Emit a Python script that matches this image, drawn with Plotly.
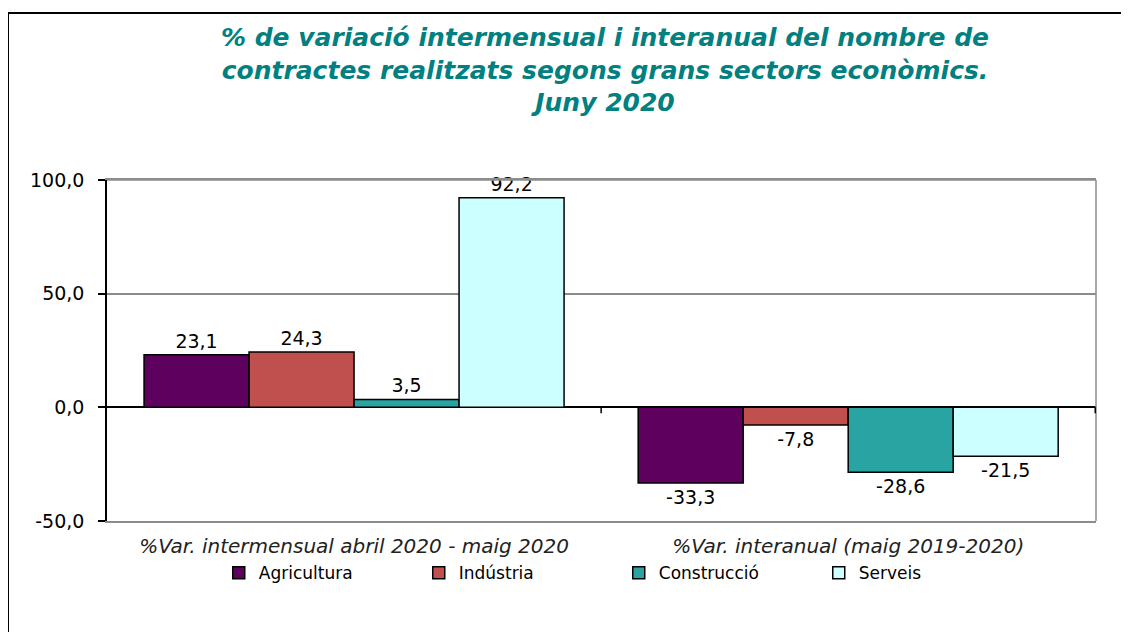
import plotly.graph_objects as go

categories = ["%Var. intermensual abril 2020 - maig 2020", "%Var. interanual (maig 2019-2020)"]
series_names = ["Agricultura", "Indústria", "Construcció", "Serveis"]
agricultura = [23.1, -33.3]
industria = [24.3, -7.8]
construccio = [3.5, -28.6]
serveis = [92.2, -21.5]
y_ticks = [-50, 0, 50, 100]
y_tick_labels = ["-50,0", "0,0", "50,0", "100,0"]

values = [agricultura, industria, construccio, serveis]
colors = ["#5E005E", "#C0504D", "#2AA3A3", "#CCFFFF"]

FONT = "DejaVu Sans, Verdana, sans-serif"
OFF = 8  # page body margin
W, H = 1129 - OFF, 632 - OFF
ml, mr, mt, mb = 107 - OFF, 33, 180 - OFF, 111
pw, ph = W - ml - mr, H - mt - mb

fig = go.Figure()
for name, vals, col in zip(series_names, values, colors):
    fig.add_trace(go.Bar(
        name=name, x=categories, y=vals,
        marker=dict(color=col, line=dict(color="black", width=1.5)),
        texttemplate="%{y:.1f}", textposition="outside",
        textfont=dict(family=FONT, size=19, color="black"),
        cliponaxis=False,
    ))

shapes = [
    # outer frame
    dict(type="rect", xref="paper", yref="paper",
         x0=(8 - 107) / pw, x1=1.2, y0=-1, y1=(521 - 13) / ph,
         line=dict(color="black", width=2), fillcolor="rgba(0,0,0,0)", layer="below"),
    dict(type="line", xref="paper", yref="paper", x0=1, x1=1, y0=0, y1=1,
         line=dict(color="#8c8c8c", width=1.5)),
    dict(type="line", xref="paper", yref="paper", x0=0, x1=1, y0=1, y1=1,
         line=dict(color="#8c8c8c", width=1.5)),
]
# small tick marks on the zero line at category boundaries
for b in [0.5, 1.5]:
    shapes.append(dict(type="line", xref="x", yref="y", x0=b, x1=b,
                       ysizemode="pixel", yanchor=0, y0=0, y1=-6,
                       line=dict(color="black", width=1.5)))

fig.update_layout(
    width=W, height=H,
    margin=dict(l=ml, r=mr, t=mt, b=mb),
    paper_bgcolor="white", plot_bgcolor="white",
    separators=",.",
    barmode="group", bargap=0.15, bargroupgap=0,
    title=dict(
        text="% de variació intermensual i interanual del nombre de<br>contractes realitzats segons grans sectors econòmics.<br>Juny 2020",
        x=(605 - OFF) / W, xanchor="center", y=1 - 38 / H, yanchor="top",
        font=dict(family=FONT, size=25, color="#008080", weight="bold", style="italic"),
    ),
    yaxis=dict(
        range=[-50, 100], tickvals=y_ticks, ticktext=y_tick_labels,
        showgrid=True, gridcolor="#8c8c8c", gridwidth=1.5,
        zeroline=True, zerolinecolor="black", zerolinewidth=1.5,
        showline=True, linecolor="black", linewidth=1.5,
        ticks="outside", ticklen=7, tickcolor="black", tickwidth=1.5,
        ticklabelstandoff=10,
        tickfont=dict(family=FONT, size=19, color="black"),
        mirror=False,
    ),
    xaxis=dict(
        showline=True, linecolor="#8c8c8c", linewidth=1.5, mirror=True,
        ticks="", ticklabelstandoff=6,
        tickfont=dict(family=FONT, size=20, color="#222222", style="italic"),
    ),
    legend=dict(
        orientation="h", x=0.113, xanchor="left", y=-0.153, yanchor="middle",
        entrywidth=155, entrywidthmode="pixels",
        font=dict(family=FONT, size=17, color="black"),
        itemwidth=30, traceorder="normal", bgcolor="rgba(0,0,0,0)",
    ),
    shapes=shapes,
    showlegend=True,
)

fig.write_html("out.html")
